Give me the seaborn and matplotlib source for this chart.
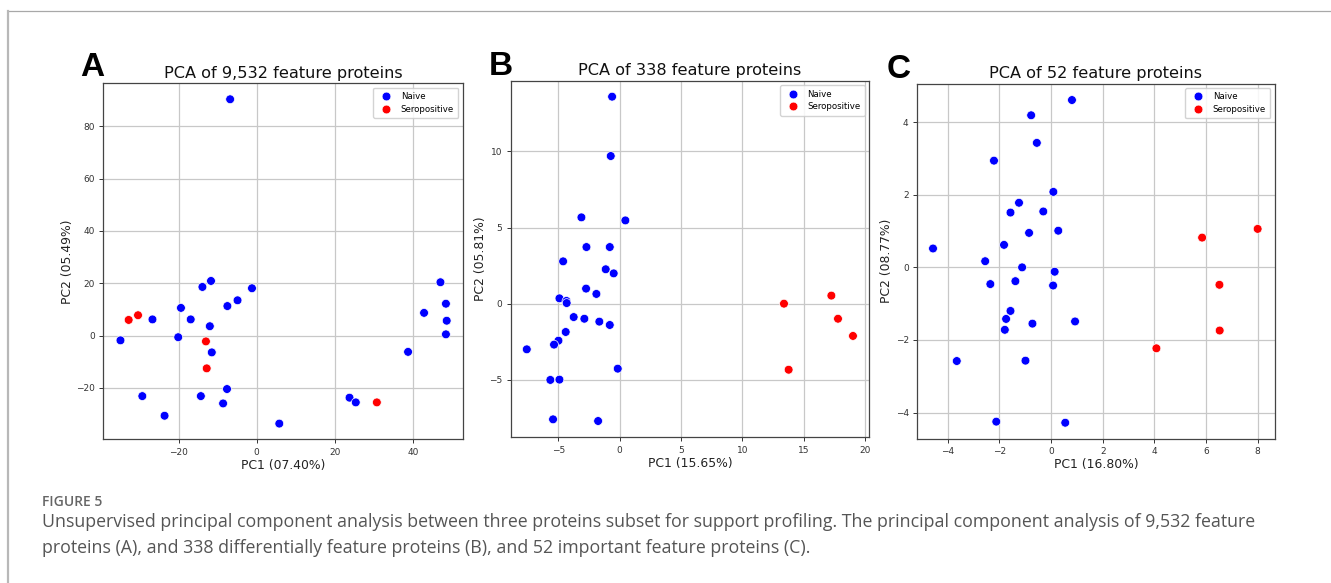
import matplotlib
matplotlib.use("Agg")
import matplotlib.pyplot as plt
import seaborn as sns
import pandas as pd
from matplotlib.lines import Line2D

# ---------------- data ----------------
groups = ["Naive", "Seropositive"]
colors = {"Naive": "#0000ff", "Seropositive": "#ff0000"}

# Panel A: PCA of 9,532 feature proteins
a_naive_pc1 = [-6.8, -34.9, -29.3, -26.7, -23.6, -19.4, -20.1, -16.9, -13.9, -11.7,
               -12.0, -11.5, -14.3, -7.6, -8.6, -7.5, -4.9, -1.2, 5.8, 23.8,
               25.4, 38.8, 42.9, 47.1, 48.5, 48.7, 48.5]
a_naive_pc2 = [90.3, -1.8, -23.1, 6.2, -30.6, 10.6, -0.6, 6.2, 18.6, 20.9,
               3.6, -6.4, -23.1, -20.4, -25.9, 11.3, 13.5, 18.1, -33.6, -23.7,
               -25.5, -6.2, 8.7, 20.4, 12.2, 5.7, 0.5]
a_sero_pc1 = [-32.8, -30.4, -13.0, -12.8, 30.8]
a_sero_pc2 = [6.0, 7.8, -2.2, -12.5, -25.5]

# Panel B: PCA of 338 feature proteins
b_naive_pc1 = [-0.62, -0.73, -3.12, 0.46, -2.71, -0.81, -4.61, -1.14, -0.49, -2.74,
               -1.90, -4.91, -4.34, -4.32, -3.75, -2.88, -1.66, -0.81, -4.40, -4.99,
               -5.35, -7.57, -0.16, -5.65, -4.91, -5.43, -1.76]
b_naive_pc2 = [13.6, 9.7, 5.67, 5.47, 3.72, 3.72, 2.78, 2.26, 1.99, 0.99,
               0.64, 0.35, 0.18, 0.04, -0.88, -0.99, -1.18, -1.40, -1.86, -2.43,
               -2.69, -3.0, -4.27, -5.01, -4.99, -7.60, -7.71]
b_sero_pc1 = [13.38, 17.24, 17.78, 19.0, 13.76]
b_sero_pc2 = [0.0, 0.53, -0.99, -2.12, -4.34]

# Panel C: PCA of 52 feature proteins
c_naive_pc1 = [0.81, -0.77, -0.55, -2.21, 0.09, -1.24, -1.57, -0.30, -0.85, 0.28,
               -1.82, -4.57, -2.55, -1.12, 0.14, -2.35, -1.38, 0.08, -1.57, -1.74,
               -0.72, 0.93, -1.79, -3.65, -0.99, -2.12, 0.55]
c_naive_pc2 = [4.61, 4.19, 3.43, 2.94, 2.08, 1.78, 1.51, 1.54, 0.95, 1.01,
               0.62, 0.52, 0.17, 0.0, -0.12, -0.46, -0.38, -0.50, -1.20, -1.42,
               -1.55, -1.49, -1.72, -2.58, -2.57, -4.25, -4.28]
c_sero_pc1 = [5.85, 8.0, 6.52, 6.53, 4.08]
c_sero_pc2 = [0.82, 1.06, -0.48, -1.74, -2.23]

titles = ["PCA of 9,532 feature proteins", "PCA of 338 feature proteins",
          "PCA of 52 feature proteins"]
xlabels = ["PC1 (07.40%)", "PC1 (15.65%)", "PC1 (16.80%)"]
ylabels = ["PC2 (05.49%)", "PC2 (05.81%)", "PC2 (08.77%)"]
letters = ["A", "B", "C"]

a_xticks = [-20, 0, 20, 40]
a_yticks = [-20, 0, 20, 40, 60, 80]
b_xticks = [-5, 0, 5, 10, 15, 20]
b_yticks = [-5, 0, 5, 10]
c_xticks = [-4, -2, 0, 2, 4, 6, 8]
c_yticks = [-4, -2, 0, 2, 4]

caption_head = "FIGURE 5"
caption_line1 = ("Unsupervised principal component analysis between three proteins subset for "
                 "support profiling. The principal component analysis of 9,532 feature")
caption_line2 = ("proteins (A), and 338 differentially feature proteins (B), and 52 important "
                 "feature proteins (C).")


def make_df(n1, n2, s1, s2):
    return pd.DataFrame({
        "PC1": list(n1) + list(s1),
        "PC2": list(n2) + list(s2),
        "Group": ["Naive"] * len(n1) + ["Seropositive"] * len(s1),
    })


dfs = [make_df(a_naive_pc1, a_naive_pc2, a_sero_pc1, a_sero_pc2),
       make_df(b_naive_pc1, b_naive_pc2, b_sero_pc1, b_sero_pc2),
       make_df(c_naive_pc1, c_naive_pc2, c_sero_pc1, c_sero_pc2)]

# ---------------- layout ----------------
W, H = 1331, 583
fig = plt.figure(figsize=(W / 100, H / 100), dpi=100)
fig.patch.set_facecolor("white")

# axes boxes in pixels: left, top, right, bottom
boxes = [(103.3, 83.3, 462.7, 439.3),
         (510.7, 81.0, 869.3, 437.3),
         (917.0, 83.7, 1274.7, 438.7)]
limits = [((-39.3, 52.8), (-39.6, 96.4)),
          ((-8.88, 20.33), (-8.78, 14.63)),
          ((-5.19, 8.66), (-4.72, 5.06))]
ticks = [(a_xticks, a_yticks), (b_xticks, b_yticks), (c_xticks, c_yticks)]
letter_pos = [(80.5, 76), (489, 75), (886.5, 78)]

for i in range(3):
    l, t, r, b = boxes[i]
    ax = fig.add_axes([l / W, 1 - b / H, (r - l) / W, (b - t) / H])
    ax.set_axisbelow(True)
    ax.grid(True, color="#c8c8c8", linewidth=0.9)
    sns.scatterplot(data=dfs[i], x="PC1", y="PC2", hue="Group", hue_order=groups,
                    palette=colors, s=40, edgecolor="white", linewidth=0.5, ax=ax)
    ax.set_xlim(*limits[i][0])
    ax.set_ylim(*limits[i][1])
    ax.set_xticks(ticks[i][0])
    ax.set_yticks(ticks[i][1])
    ax.tick_params(labelsize=6.5, colors="#333333", length=3, width=0.7, pad=3)
    for sp in ax.spines.values():
        sp.set_color("#444444")
        sp.set_linewidth(0.9)
    ax.set_title(titles[i], fontsize=11.6, pad=4, color="#111111")
    ax.set_xlabel(xlabels[i], fontsize=8.9, labelpad=1.5, color="#222222")
    ax.set_ylabel(ylabels[i], fontsize=8.9, labelpad=1.5, color="#222222")
    sns.move_legend(ax, "upper right", title=None, fontsize=6.2, frameon=True,
                    markerscale=1.0, handletextpad=0.7, borderpad=0.5,
                    labelspacing=0.45, fancybox=True, framealpha=0.85)
    lx, ly = letter_pos[i]
    fig.text(lx / W, 1 - ly / H, letters[i], fontsize=24, fontweight="bold",
             family=["Liberation Sans", "DejaVu Sans"], va="baseline", ha="left",
             color="black")

# ---------------- caption ----------------
fig.text(42 / W, 1 - 506 / H, caption_head, fontsize=10, fontweight="semibold",
         family=["Open Sans", "DejaVu Sans"], color="#666666", va="baseline")
fig.text(42 / W, 1 - 527 / H, caption_line1, fontsize=12.75,
         family=["Open Sans", "DejaVu Sans"], color="#555555", va="baseline")
fig.text(42 / W, 1 - 553 / H, caption_line2, fontsize=12.75,
         family=["Open Sans", "DejaVu Sans"], color="#555555", va="baseline")

# ---------------- frame ----------------
fig.add_artist(Line2D([8 / W, 1.0], [1 - 10.5 / H, 1 - 10.5 / H],
                      transform=fig.transFigure, color="#a8a8a8", linewidth=0.9))
fig.add_artist(Line2D([8.3 / W, 8.3 / W], [0.0, 1 - 10.5 / H],
                      transform=fig.transFigure, color="#b8b8b8", linewidth=1.6))

fig.savefig("out.png", dpi=100)
